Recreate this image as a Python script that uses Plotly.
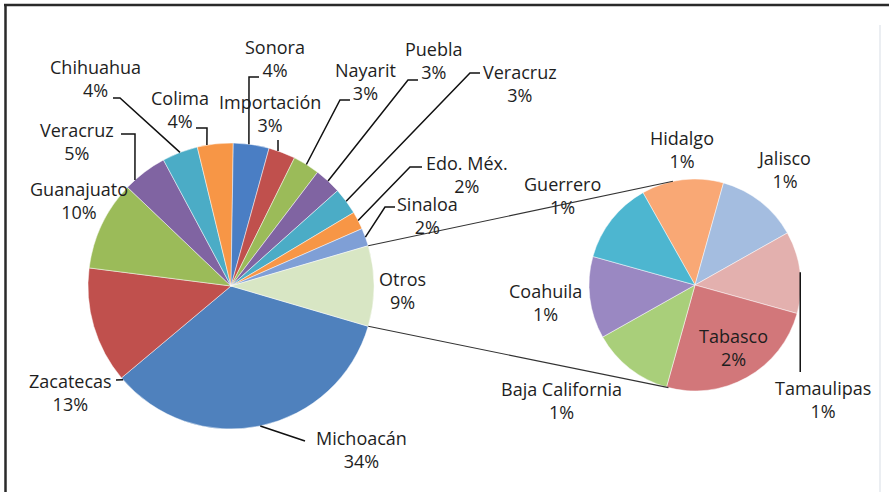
import math
import plotly.graph_objects as go

W, H = 889, 492

# ---------------- data ----------------
main_labels = ["Michoacán", "Zacatecas", "Guanajuato", "Veracruz", "Chihuahua", "Colima",
               "Sonora", "Importación", "Nayarit", "Puebla", "Veracruz", "Edo. Méx.",
               "Sinaloa", "Otros"]
main_values = [34, 13, 10, 5, 4, 4, 4, 3, 3, 3, 3, 2, 2, 9]
main_pct = ["34%", "13%", "10%", "5%", "4%", "4%", "4%", "3%", "3%", "3%", "3%", "2%", "2%", "9%"]

sec_labels = ["Hidalgo", "Jalisco", "Tamaulipas", "Tabasco", "Baja California", "Coahuila", "Guerrero"]
sec_values = [1, 1, 1, 2, 1, 1, 1]
sec_pct = ["1%", "1%", "1%", "2%", "1%", "1%", "1%"]

# ---------------- style ----------------
main_colors = ["#4F81BD", "#C0504D", "#9BBB59", "#8064A2", "#4BACC6", "#F79646",
               "#4A7EC4", "#C0504D", "#9BBB59", "#8064A2", "#4BACC6", "#F79646",
               "#7F9FD6", "#D8E6C4"]
sec_colors = ["#F9A875", "#A4BDE0", "#E3B0AE", "#D2777A", "#A9CF7A", "#9A88C2", "#4DB6D0"]

MAIN_C, MAIN_R = (231, 286), 143
SEC_C, SEC_R = (695, 285), 106
SEC_ROT = -29.4
FONT = dict(family="Open Sans", size=18, color="#1e1e1e")

# label centres (pixels) and leader routes (label side points)
main_label_pos = [(361, 449), (70, 392), (79, 200), (77, 141), (95, 78), (180, 109),
                  (275, 58), (270, 113), (365, 81), (434, 60), (520, 83), (467, 174),
                  (427, 215), (402, 290)]
main_leaders = {  # index: (pie angle override or None, [points])
    0: (None, [(305, 441)]),
    1: (229, [(116, 380)]),
    3: (317.8, [(135, 134), (121, 134)]),
    4: (None, [(120, 98), (113, 98)]),
    5: (350.3, [(207, 128), (196, 128)]),
    6: (7.2, [(249, 77), (259, 77)]),
    7: (19.2, [(278, 140)]),
    8: (None, [(340, 100), (350, 100)]),
    9: (None, [(408, 80), (418, 80)]),
    10: (None, [(470, 73), (480, 73)]),
    11: (None, [(410, 167), (422, 167)]),
    12: (None, [(385, 207), (395, 207)]),
}
sec_label_pos = [(682, 149), (784, 170), (823, 399), (733, 347), (561, 400), (545, 302), (562, 195)]
sec_leaders = {2: (None, "vertical", 372)}
CONNECT_SEC_ANGLES = (348.0, 194.5)


def px(x):
    return x / W


def py(y):
    return 1 - y / H


def pt_on(c, r, ang):
    a = math.radians(ang)
    return (c[0] + r * math.sin(a), c[1] - r * math.cos(a))


def slice_angles(values, rot):
    tot = sum(values)
    out = []
    cur = rot
    for v in values:
        span = v / tot * 360
        out.append((cur, cur + span))
        cur += span
    return out


tot_main = sum(main_values)
main_rot = 90 + main_values[-1] / tot_main * 360 / 2
main_ang = slice_angles(main_values, main_rot)
sec_ang = slice_angles(sec_values, SEC_ROT)

fig = go.Figure()
fig.add_trace(go.Pie(
    labels=[f"{l} ({i})" for i, l in enumerate(main_labels)], values=main_values,
    sort=False, direction="clockwise", rotation=main_rot,
    marker=dict(colors=main_colors, line=dict(color="rgba(255,255,255,0.6)", width=0.8)),
    textinfo="none", hovertext=[f"{l}: {p}" for l, p in zip(main_labels, main_pct)],
    hoverinfo="text",
    domain=dict(x=[px(MAIN_C[0] - MAIN_R), px(MAIN_C[0] + MAIN_R)],
                y=[py(MAIN_C[1] + MAIN_R), py(MAIN_C[1] - MAIN_R)]),
))
fig.add_trace(go.Pie(
    labels=sec_labels, values=sec_values,
    sort=False, direction="clockwise", rotation=SEC_ROT,
    marker=dict(colors=sec_colors, line=dict(color="rgba(255,255,255,0.6)", width=0.8)),
    textinfo="none", hovertext=[f"{l}: {p}" for l, p in zip(sec_labels, sec_pct)],
    hoverinfo="text",
    domain=dict(x=[px(SEC_C[0] - SEC_R), px(SEC_C[0] + SEC_R)],
                y=[py(SEC_C[1] + SEC_R), py(SEC_C[1] - SEC_R)]),
))

shapes = []


def path_shape(points, color="#111", width=1.5):
    d = "M " + " L ".join(f"{px(x):.5f},{py(y):.5f}" for x, y in points)
    return dict(type="path", xref="paper", yref="paper", path=d,
                line=dict(color=color, width=width))


for i, (ang, pts) in main_leaders.items():
    a = ang if ang is not None else sum(main_ang[i]) / 2
    start = pt_on(MAIN_C, MAIN_R, a)
    shapes.append(path_shape([start] + pts))

for i, (ang, kind, yend) in sec_leaders.items():
    a = ang if ang is not None else sum(sec_ang[i]) / 2
    start = pt_on(SEC_C, SEC_R, a)
    shapes.append(path_shape([start, (start[0], yend)]))

# connector lines between the "Otros" slice and the secondary pie
o0, o1 = main_ang[-1]
shapes.append(path_shape([pt_on(MAIN_C, MAIN_R, o0), pt_on(SEC_C, SEC_R, CONNECT_SEC_ANGLES[0])],
                         color="#333", width=1.1))
shapes.append(path_shape([pt_on(MAIN_C, MAIN_R, o1), pt_on(SEC_C, SEC_R, CONNECT_SEC_ANGLES[1])],
                         color="#333", width=1.1))

# frame
shapes.append(dict(type="line", xref="paper", yref="paper", x0=px(4), x1=1, y0=py(5), y1=py(5),
                   line=dict(color="#2a2a2a", width=2.5)))
shapes.append(dict(type="line", xref="paper", yref="paper", x0=px(5.5), x1=px(5.5), y0=py(4), y1=0,
                   line=dict(color="#2a2a2a", width=2.5)))
shapes.append(dict(type="line", xref="paper", yref="paper", x0=px(880), x1=px(880), y0=py(25), y1=0,
                   line=dict(color="#e4e8ee", width=1.5)))

annotations = []
for name, pct, (x, y) in zip(main_labels, main_pct, main_label_pos):
    annotations.append(dict(x=px(x), y=py(y), xref="paper", yref="paper", text=f"{name}<br>{pct}",
                            showarrow=False, xanchor="center", yanchor="middle", align="center",
                            font=FONT))
for name, pct, (x, y) in zip(sec_labels, sec_pct, sec_label_pos):
    annotations.append(dict(x=px(x), y=py(y), xref="paper", yref="paper", text=f"{name}<br>{pct}",
                            showarrow=False, xanchor="center", yanchor="middle", align="center",
                            font=FONT))

fig.update_layout(
    width=W, height=H, margin=dict(l=0, r=0, t=0, b=0),
    paper_bgcolor="white", plot_bgcolor="white", showlegend=False,
    shapes=shapes, annotations=annotations,
)

fig.write_html("out.html", config={"displayModeBar": False},
               post_script="document.body.style.margin='0';document.body.style.overflow='hidden';")
